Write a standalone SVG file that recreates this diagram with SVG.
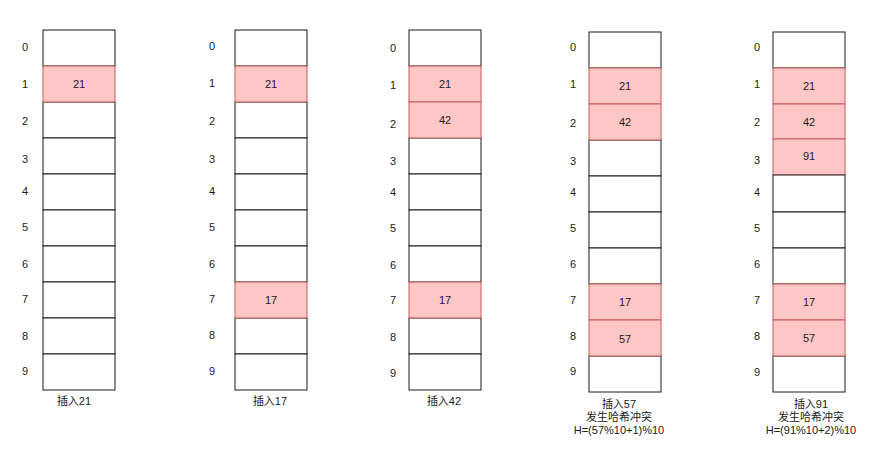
<svg xmlns="http://www.w3.org/2000/svg" width="881" height="470" viewBox="0 0 881 470">
<style>
text{font-family:"Liberation Sans","Noto Sans CJK SC",sans-serif;font-size:11px;fill:#1a1a1a;text-anchor:middle}
.e{fill:#fff;stroke:#1a1a1a;stroke-width:1}
.f{fill:#ffc6c6;stroke:#c85a5a;stroke-width:1}
</style>
<rect width="881" height="470" fill="#fff"/>
<g id="col1">
<rect class="e" x="43" y="30" width="72" height="36"/>
<rect class="e" x="43" y="102" width="72" height="36"/>
<rect class="e" x="43" y="138" width="72" height="36"/>
<rect class="e" x="43" y="174" width="72" height="36"/>
<rect class="e" x="43" y="210" width="72" height="36"/>
<rect class="e" x="43" y="246" width="72" height="36"/>
<rect class="e" x="43" y="282" width="72" height="36"/>
<rect class="e" x="43" y="318" width="72" height="36"/>
<rect class="e" x="43" y="354" width="72" height="36"/>
<rect class="f" x="43" y="66" width="72" height="36"/>
<text x="79" y="88">21</text>
<text x="25" y="51">0</text><text x="25" y="88">1</text><text x="25" y="125">2</text><text x="25" y="163">3</text><text x="25" y="195">4</text><text x="25" y="231">5</text><text x="25" y="268">6</text><text x="25" y="303">7</text><text x="25" y="340">8</text><text x="25" y="375">9</text>
<text x="74" y="405">插入21</text>
</g>
<g id="col2">
<rect class="e" x="235" y="30" width="72" height="36"/>
<rect class="e" x="235" y="102" width="72" height="36"/>
<rect class="e" x="235" y="138" width="72" height="36"/>
<rect class="e" x="235" y="174" width="72" height="36"/>
<rect class="e" x="235" y="210" width="72" height="36"/>
<rect class="e" x="235" y="246" width="72" height="36"/>
<rect class="e" x="235" y="318" width="72" height="36"/>
<rect class="e" x="235" y="354" width="72" height="36"/>
<rect class="f" x="235" y="66" width="72" height="36"/>
<rect class="f" x="235" y="282" width="72" height="36"/>
<text x="271" y="88">21</text>
<text x="271" y="304">17</text>
<text x="212" y="50">0</text><text x="212" y="87">1</text><text x="212" y="125">2</text><text x="212" y="163">3</text><text x="212" y="195">4</text><text x="212" y="231">5</text><text x="212" y="268">6</text><text x="212" y="303">7</text><text x="212" y="339">8</text><text x="212" y="375">9</text>
<text x="270" y="405">插入17</text>
</g>
<g id="col3">
<rect class="e" x="409" y="30" width="72" height="36"/>
<rect class="e" x="409" y="138" width="72" height="36"/>
<rect class="e" x="409" y="174" width="72" height="36"/>
<rect class="e" x="409" y="210" width="72" height="36"/>
<rect class="e" x="409" y="246" width="72" height="36"/>
<rect class="e" x="409" y="318" width="72" height="36"/>
<rect class="e" x="409" y="354" width="72" height="36"/>
<rect class="f" x="409" y="66" width="72" height="36"/>
<rect class="f" x="409" y="102" width="72" height="36"/>
<rect class="f" x="409" y="282" width="72" height="36"/>
<text x="445" y="88">21</text>
<text x="445" y="124">42</text>
<text x="445" y="304">17</text>
<text x="393" y="52">0</text><text x="393" y="89">1</text><text x="393" y="128">2</text><text x="393" y="165">3</text><text x="393" y="196">4</text><text x="393" y="232">5</text><text x="393" y="269">6</text><text x="393" y="304">7</text><text x="393" y="341">8</text><text x="393" y="377">9</text>
<text x="444" y="405">插入42</text>
</g>
<g id="col4">
<rect class="e" x="589" y="32" width="72" height="36"/>
<rect class="e" x="589" y="140" width="72" height="36"/>
<rect class="e" x="589" y="176" width="72" height="36"/>
<rect class="e" x="589" y="212" width="72" height="36"/>
<rect class="e" x="589" y="248" width="72" height="36"/>
<rect class="e" x="589" y="356" width="72" height="36"/>
<rect class="f" x="589" y="68" width="72" height="36"/>
<rect class="f" x="589" y="104" width="72" height="36"/>
<rect class="f" x="589" y="284" width="72" height="36"/>
<rect class="f" x="589" y="320" width="72" height="36"/>
<text x="625" y="90">21</text>
<text x="625" y="126">42</text>
<text x="625" y="306">17</text>
<text x="625" y="343">57</text>
<text x="573" y="51">0</text><text x="573" y="88">1</text><text x="573" y="127">2</text><text x="573" y="165">3</text><text x="573" y="196">4</text><text x="573" y="232">5</text><text x="573" y="268">6</text><text x="573" y="304">7</text><text x="573" y="340">8</text><text x="573" y="375">9</text>
<text x="619" y="408">插入57</text>
<text x="619" y="421">发生哈希冲突</text>
<text x="619" y="434">H=(57%10+1)%10</text>
</g>
<g id="col5">
<rect class="e" x="773" y="32" width="72" height="36"/>
<rect class="f" x="773" y="68" width="72" height="36"/>
<rect class="f" x="773" y="104" width="72" height="35"/>
<rect class="f" x="773" y="139" width="72" height="36"/>
<rect class="e" x="773" y="175" width="72" height="37"/>
<rect class="e" x="773" y="212" width="72" height="36"/>
<rect class="e" x="773" y="248" width="72" height="36"/>
<rect class="e" x="773" y="356" width="72" height="36"/>
<rect class="f" x="773" y="284" width="72" height="36"/>
<rect class="f" x="773" y="320" width="72" height="36"/>
<text x="809" y="90">21</text>
<text x="809" y="126">42</text>
<text x="809" y="160">91</text>
<text x="809" y="306">17</text>
<text x="809" y="342">57</text>
<text x="757" y="51">0</text><text x="757" y="88">1</text><text x="757" y="126">2</text><text x="757" y="164">3</text><text x="757" y="196">4</text><text x="757" y="232">5</text><text x="757" y="268">6</text><text x="757" y="304">7</text><text x="757" y="340">8</text><text x="757" y="376">9</text>
<text x="811" y="408">插入91</text>
<text x="811" y="421">发生哈希冲突</text>
<text x="811" y="434">H=(91%10+2)%10</text>
</g>
</svg>
